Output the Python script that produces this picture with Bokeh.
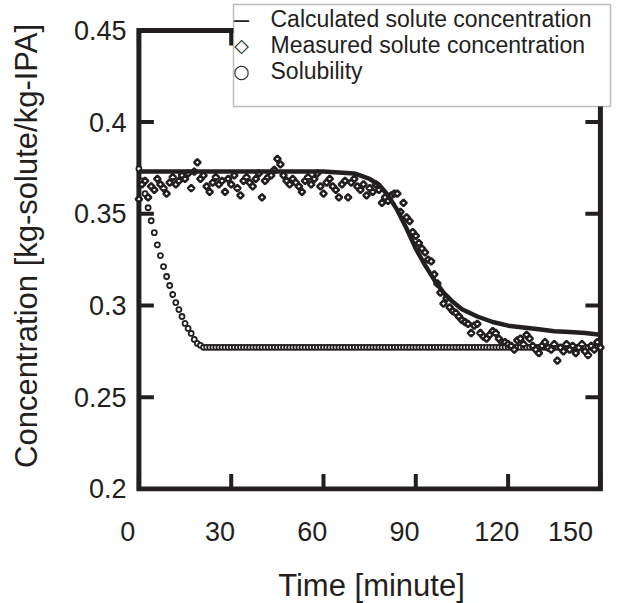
from bokeh.plotting import figure
from bokeh.models import Range1d, FixedTicker, Label, BoxAnnotation
from bokeh.embed import file_html
from bokeh.resources import INLINE

# ---------------- data ----------------
x_ticks = [0, 30, 60, 90, 120, 150]
x_tick_labels = ["0", "30", "60", "90", "120", "150"]
y_ticks = [0.2, 0.25, 0.3, 0.35, 0.4, 0.45]
y_tick_labels = ["0.2", "0.25", "0.3", "0.35", "0.4", "0.45"]

legend_symbols = ["\u2013", "\u25c7", "\u25cb"]
legend_labels = ["Calculated solute concentration",
                 "Measured solute concentration",
                 "Solubility"]

calc_time = [0, 10, 20, 30, 40, 50, 60, 65, 70, 75, 78, 81, 84, 87, 90, 93, 96,
             99, 102, 105, 110, 115, 120, 125, 130, 135, 140, 145, 150]
calc_conc = [0.373, 0.373, 0.373, 0.373, 0.373, 0.373, 0.373, 0.3725, 0.372,
             0.369, 0.366, 0.360, 0.352, 0.342, 0.331, 0.322, 0.314, 0.307,
             0.302, 0.298, 0.294, 0.291, 0.289, 0.288, 0.287, 0.286, 0.2855,
             0.285, 0.284]

meas_time = list(range(0, 151))
meas_conc = [
    0.358, 0.366, 0.368, 0.359, 0.365, 0.363, 0.369, 0.366, 0.364, 0.361,
    0.367, 0.370, 0.366, 0.368, 0.371, 0.369, 0.372, 0.364, 0.373, 0.378,
    0.369, 0.371, 0.365, 0.362, 0.367, 0.370, 0.366, 0.368, 0.362, 0.369,
    0.366, 0.371, 0.364, 0.360, 0.368, 0.370, 0.367, 0.365, 0.369, 0.372,
    0.359, 0.368, 0.370, 0.371, 0.374, 0.380, 0.377, 0.371, 0.368, 0.366,
    0.369, 0.367, 0.365, 0.362, 0.368, 0.370, 0.366, 0.369, 0.372, 0.365,
    0.361, 0.367, 0.369, 0.365, 0.363, 0.359, 0.366, 0.368, 0.359, 0.367,
    0.369, 0.365, 0.363, 0.366, 0.360, 0.364, 0.362, 0.366, 0.363, 0.356,
    0.359, 0.357, 0.360, 0.361, 0.361, 0.351, 0.356, 0.348, 0.346, 0.340,
    0.338, 0.334, 0.331, 0.329, 0.325, 0.324, 0.317, 0.312, 0.307, 0.301,
    0.304, 0.299, 0.297, 0.296, 0.294, 0.292, 0.291, 0.290, 0.285, 0.289,
    0.290, 0.285, 0.283, 0.282, 0.284, 0.286, 0.285, 0.282, 0.280, 0.280,
    0.279, 0.278, 0.276, 0.281, 0.282, 0.279, 0.284, 0.282, 0.278, 0.276,
    0.274, 0.278, 0.280, 0.277, 0.276, 0.279, 0.270, 0.277, 0.275, 0.279,
    0.276, 0.278, 0.274, 0.277, 0.279, 0.275, 0.273, 0.278, 0.276, 0.280,
    0.277]

sol_time = list(range(0, 151))
sol_conc = [0.3745, 0.368, 0.361, 0.3533, 0.3462, 0.3397, 0.3331, 0.3272,
            0.3212, 0.3158, 0.3109, 0.3060, 0.3016, 0.2978, 0.2940, 0.2902,
            0.2875, 0.2848, 0.2815, 0.2793, 0.2783] + [0.2772] * 130

# ---------------- layout constants (pixels) ----------------
INK = "#231f20"
FONT = "Liberation Sans"
FRAME_LEFT = 130
FRAME_W = 482
FRAME_H = 491
X0_PX = 138.4          # page x of the x=0 axis line
YTOP_PX = 29.9         # page y of the top (0.45) line
K_X = 461.5 / (x_ticks[-1] - x_ticks[0])       # px per minute
K_Y = 458.5 / (y_ticks[-1] - y_ticks[0])       # px per unit
TICK_PX = 15

x_start = x_ticks[0] - (X0_PX - FRAME_LEFT) / K_X
x_end = x_start + FRAME_W / K_X
y_end = y_ticks[-1] + YTOP_PX / K_Y
y_start = y_end - FRAME_H / K_Y

p = figure(frame_width=FRAME_W, frame_height=FRAME_H,
           x_range=Range1d(x_start, x_end), y_range=Range1d(y_start, y_end),
           output_backend="svg", toolbar_location=None,
           min_border_left=FRAME_LEFT, min_border_right=3,
           min_border_top=0, min_border_bottom=0)
p.grid.visible = False
p.outline_line_color = None
p.background_fill_color = "white"
p.border_fill_color = "white"

# frame box and inward ticks on all four sides
xmin, xmax = x_ticks[0], x_ticks[-1]
ymin, ymax = y_ticks[0], y_ticks[-1]
tx = TICK_PX / K_X
ty = TICK_PX / K_Y
p.quad(left=[xmin], right=[xmax], bottom=[ymin], top=[ymax],
       fill_color=None, line_color=INK, line_width=5, line_join="miter")
seg_x0 = [xmin] * len(y_ticks) + [xmax - tx] * len(y_ticks) + x_ticks + x_ticks
seg_x1 = [xmin + tx] * len(y_ticks) + [xmax] * len(y_ticks) + x_ticks + x_ticks
seg_y0 = y_ticks + y_ticks + [ymin] * len(x_ticks) + [ymax - ty] * len(x_ticks)
seg_y1 = y_ticks + y_ticks + [ymin + ty] * len(x_ticks) + [ymax] * len(x_ticks)
p.segment(seg_x0, seg_y0, seg_x1, seg_y1, line_width=4, line_color=INK, line_cap="butt")

# data
p.scatter(sol_time, sol_conc, marker="circle", size=5, line_width=1.8,
          line_color=INK, fill_color="white")
p.scatter(meas_time, meas_conc, marker="square", angle=0.785398, size=4.6,
          line_width=2.5, line_color=INK, fill_color="white")
p.line(calc_time, calc_conc, line_width=4.5, line_color=INK)

# axes (labels only)
for ax in (p.xaxis[0], p.yaxis[0]):
    ax.axis_line_color = None
    ax.major_tick_line_color = None
    ax.minor_tick_line_color = None
    ax.major_tick_in = 0
    ax.major_tick_out = 0
    ax.major_label_text_font = FONT
    ax.major_label_text_font_size = "27px"
    ax.major_label_text_color = INK
    ax.axis_label_text_font = FONT
    ax.axis_label_text_font_size = "31px"
    ax.axis_label_text_font_style = "normal"
    ax.axis_label_text_color = INK

xa = p.xaxis[0]
xa.ticker = FixedTicker(ticks=x_ticks)
xa.major_label_overrides = {t: s + "\u00a0\u00a0\u00a0" for t, s in zip(x_ticks, x_tick_labels)}
xa.axis_label = "Time [minute]"
xa.major_label_standoff = 25
xa.axis_label_standoff = 18

ya = p.yaxis[0]
ya.ticker = FixedTicker(ticks=y_ticks)
ya.major_label_overrides = {t: s for t, s in zip(y_ticks, y_tick_labels)}
ya.axis_label = "Concentration [kg-solute/kg-IPA]"
ya.major_label_standoff = 4
ya.axis_label_standoff = 27

# ---------------- legend ----------------
def sy(page_y):
    return FRAME_H - page_y

def sx(page_x):
    return page_x - FRAME_LEFT

p.add_layout(BoxAnnotation(left=sx(233), right=sx(610), top=sy(4), bottom=sy(106),
                           left_units="screen", right_units="screen",
                           top_units="screen", bottom_units="screen",
                           fill_color="white", fill_alpha=1.0,
                           line_color=INK, line_width=1.5))
sym_fonts = [(FONT, "27px"), ("DejaVu Sans", "19px"), ("DejaVu Sans", "19px")]
for i, (sym, lab) in enumerate(zip(legend_symbols, legend_labels)):
    yy = sy(18 + 26 * i)
    f, fs = sym_fonts[i]
    p.add_layout(Label(x=sx(241), y=yy, x_units="screen", y_units="screen", text=sym,
                       text_font=f, text_font_size=fs, text_color=INK,
                       text_align="center", text_baseline="middle"))
    p.add_layout(Label(x=sx(270), y=yy, x_units="screen", y_units="screen", text=lab,
                       text_font=FONT, text_font_size="23px", text_color=INK,
                       text_align="left", text_baseline="middle"))

open("out.html", "w").write(file_html(p, INLINE))
